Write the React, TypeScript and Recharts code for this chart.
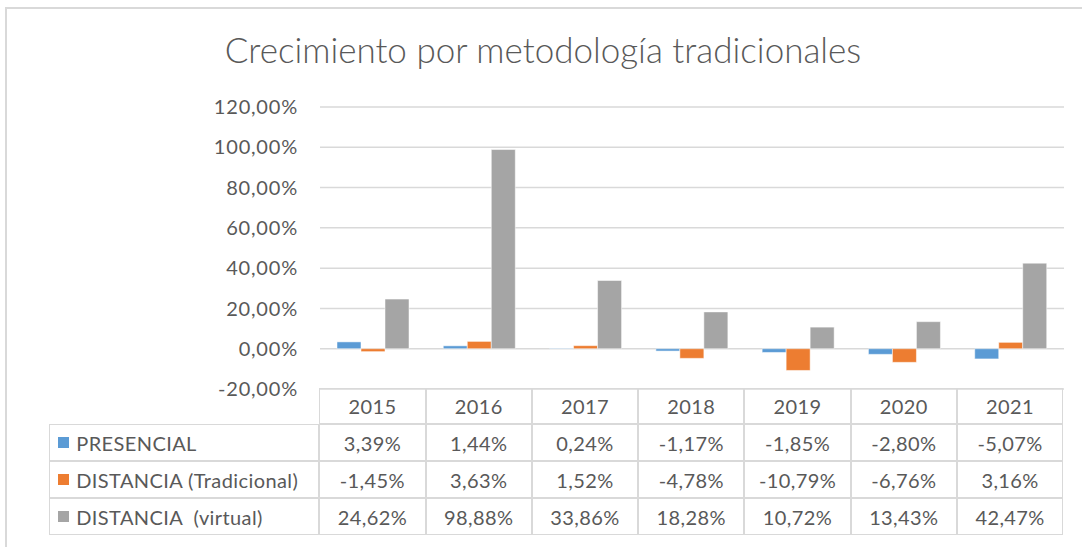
import { Bar, BarChart, CartesianGrid, XAxis, YAxis } from "recharts";

const years = ["2015", "2016", "2017", "2018", "2019", "2020", "2021"];
const presencial = [3.39, 1.44, 0.24, -1.17, -1.85, -2.8, -5.07];
const distanciaTradicional = [-1.45, 3.63, 1.52, -4.78, -10.79, -6.76, 3.16];
const distanciaVirtual = [24.62, 98.88, 33.86, 18.28, 10.72, 13.43, 42.47];
const yTicks = [-20, 0, 20, 40, 60, 80, 100, 120];

const series = [
  { key: "presencial", name: "PRESENCIAL", color: "#5B9BD5", values: presencial },
  { key: "tradicional", name: "DISTANCIA (Tradicional)", color: "#ED7D31", values: distanciaTradicional },
  { key: "virtual", name: "DISTANCIA  (virtual)", color: "#A5A5A5", values: distanciaVirtual }
];

const data = years.map((year, i) => ({
  year,
  presencial: presencial[i],
  tradicional: distanciaTradicional[i],
  virtual: distanciaVirtual[i]
}));

const W = 1082;
const H = 547;
const PLOT_LEFT = 320;
const PLOT_RIGHT = 1064;
const PLOT_TOP = 107;
const PLOT_BOTTOM = 389;
const LEGEND_LEFT = 50;
const HEADER_H = 36;
const ROW_H = 37;

const FONT = "Lato, 'Open Sans', sans-serif";
const GRID = "#d9d9d9";
const TEXT = "#595959";

const fmt = (v: number) => v.toFixed(2).replace(".", ",") + "%";

const colW = (PLOT_RIGHT - PLOT_LEFT) / years.length;

const cell = (left: number, top: number, width: number, height: number, content: React.ReactNode, key: string, align: "center" | "left" = "center") => (
  <div
    key={key}
    style={{
      position: "absolute",
      left,
      top,
      width,
      height,
      boxSizing: "border-box",
      border: `1.5px solid ${GRID}`,
      marginLeft: -0.75,
      marginTop: -0.75,
      display: "flex",
      alignItems: "center",
      justifyContent: align === "center" ? "center" : "flex-start",
      paddingLeft: align === "left" ? 8 : 0,
      fontSize: 20,
      letterSpacing: 0.4,
      color: TEXT,
      whiteSpace: "pre"
    }}
  >
    {content}
  </div>
);

export default function App() {
  return (
    <div style={{ position: "absolute", left: 0, top: 0, width: W, height: H, overflow: "hidden", background: "#fff", fontFamily: FONT }}>
      <div style={{ position: "absolute", left: 5, top: 7, width: W + 20, height: H + 20, border: `2px solid ${GRID}` }} />
      <div style={{ position: "absolute", left: 0, top: 28, width: W + 4, textAlign: "center", fontSize: 35, color: TEXT, fontWeight: 300 }}>
        Crecimiento por metodología tradicionales
      </div>
      <div style={{ position: "absolute", left: 0, top: 0 }}>
        <BarChart
          width={W}
          height={PLOT_BOTTOM + 11}
          data={data}
          margin={{ top: PLOT_TOP, right: W - PLOT_RIGHT, bottom: 11, left: 0 }}
          barGap={0}
          barCategoryGap="16%"
        >
          <CartesianGrid vertical={false} stroke={GRID} strokeWidth={1.5} />
          <XAxis dataKey="year" hide />
          <YAxis
            width={PLOT_LEFT}
            domain={[-20, 120]}
            ticks={yTicks}
            interval={0}
            tickFormatter={fmt}
            axisLine={false}
            tickLine={false}
            tickSize={0}
            tickMargin={22}
            tick={{ fill: TEXT, fontSize: 20, fontFamily: FONT, letterSpacing: 0.8 }}
          />
          {series.map((s) => (
            <Bar key={s.key} dataKey={s.key} name={s.name} fill={s.color} stroke="#fff" strokeWidth={0.5} isAnimationActive={false} />
          ))}
        </BarChart>
      </div>
      {years.map((y, i) => cell(PLOT_LEFT + i * colW, PLOT_BOTTOM, colW, HEADER_H, y, "h" + y))}
      {series.map((s, r) => {
        const top = PLOT_BOTTOM + HEADER_H + r * ROW_H;
        return [
          cell(
            LEGEND_LEFT,
            top,
            PLOT_LEFT - LEGEND_LEFT,
            ROW_H,
            <>
              <span style={{ display: "inline-block", width: 11, height: 11, background: s.color, marginRight: 7 }} />
              {s.name}
            </>,
            "l" + s.key,
            "left"
          ),
          ...s.values.map((v, i) => cell(PLOT_LEFT + i * colW, top, colW, ROW_H, fmt(v), s.key + i))
        ];
      })}
    </div>
  );
}
